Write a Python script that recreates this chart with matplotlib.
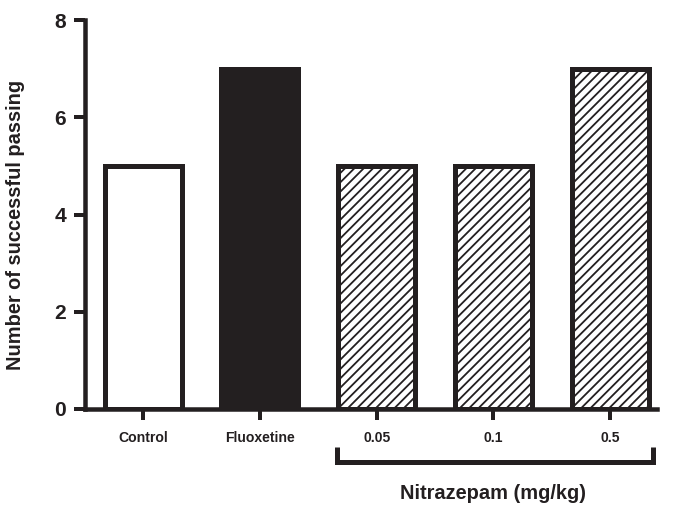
import matplotlib as mpl
mpl.use("Agg")
import matplotlib.pyplot as plt
import matplotlib.transforms as transforms

# Data.
categories = ["Control", "Fluoxetine", "0.05", "0.1", "0.5"]
values = [5, 7, 5, 5, 7]
fills = ["white", "#231f20", "white", "white", "white"]
hatches = ["", "", "///", "///", "///"]
y_ticks = [0, 2, 4, 6, 8]
group_label = "Nitrazepam (mg/kg)"
y_label = "Number of successful passing"

DPI = 84
INK = "#231f20"


def px(n):
    """Pixels -> points at the chosen dpi."""
    return n * 72.0 / DPI


plt.rcParams["font.family"] = ["Liberation Sans", "DejaVu Sans"]
plt.rcParams["font.weight"] = "bold"
plt.rcParams["hatch.linewidth"] = px(1.8)

fig = plt.figure(figsize=(673 / DPI, 505 / DPI), dpi=DPI)
ax = fig.add_axes([85 / 673, 96 / 505, 572 / 673, 389 / 505])

positions = list(range(len(categories)))
bar_width = 0.66
for x, v, fc, h in zip(positions, values, fills, hatches):
    ax.bar(x, v, width=bar_width, facecolor=fc, edgecolor=INK, hatch=h,
           linewidth=px(5), zorder=2)

ax.set_xlim(-0.497, 4.40)
ax.set_ylim(0, 8)
ax.set_yticks(y_ticks)
ax.set_yticklabels([str(t) for t in y_ticks], fontsize=px(21), fontweight="bold", color=INK)
ax.set_xticks(positions)
ax.set_xticklabels(categories, fontsize=px(14), fontweight="bold", color=INK)

for spine in ["top", "right"]:
    ax.spines[spine].set_visible(False)
for spine in ["left", "bottom"]:
    ax.spines[spine].set_linewidth(px(4.5))
    ax.spines[spine].set_color(INK)
    ax.spines[spine].set_zorder(3)

ax.tick_params(axis="x", length=px(11), width=px(4), color=INK, pad=px(11))
ax.tick_params(axis="y", length=px(11), width=px(4), color=INK, pad=px(8))

ax.set_ylabel(y_label, fontsize=px(20), fontweight="bold", color=INK)
ax.yaxis.set_label_coords(-0.105, 0.473)

# Bracket under the nitrazepam doses.
trans = transforms.blended_transform_factory(ax.transData, ax.transAxes)
bx0, bx1 = 1.66, 4.37
by_top, by_bot = -0.098, -0.136
ax.plot([bx0, bx0, bx1, bx1], [by_top, by_bot, by_bot, by_top], transform=trans,
        color=INK, lw=px(5), clip_on=False, solid_joinstyle="miter", solid_capstyle="butt")
ax.text(3.0, -0.216, group_label, transform=trans, ha="center", va="center",
        fontsize=px(20), fontweight="bold", color=INK)

fig.savefig("out.png", dpi=DPI)
plt.close(fig)
